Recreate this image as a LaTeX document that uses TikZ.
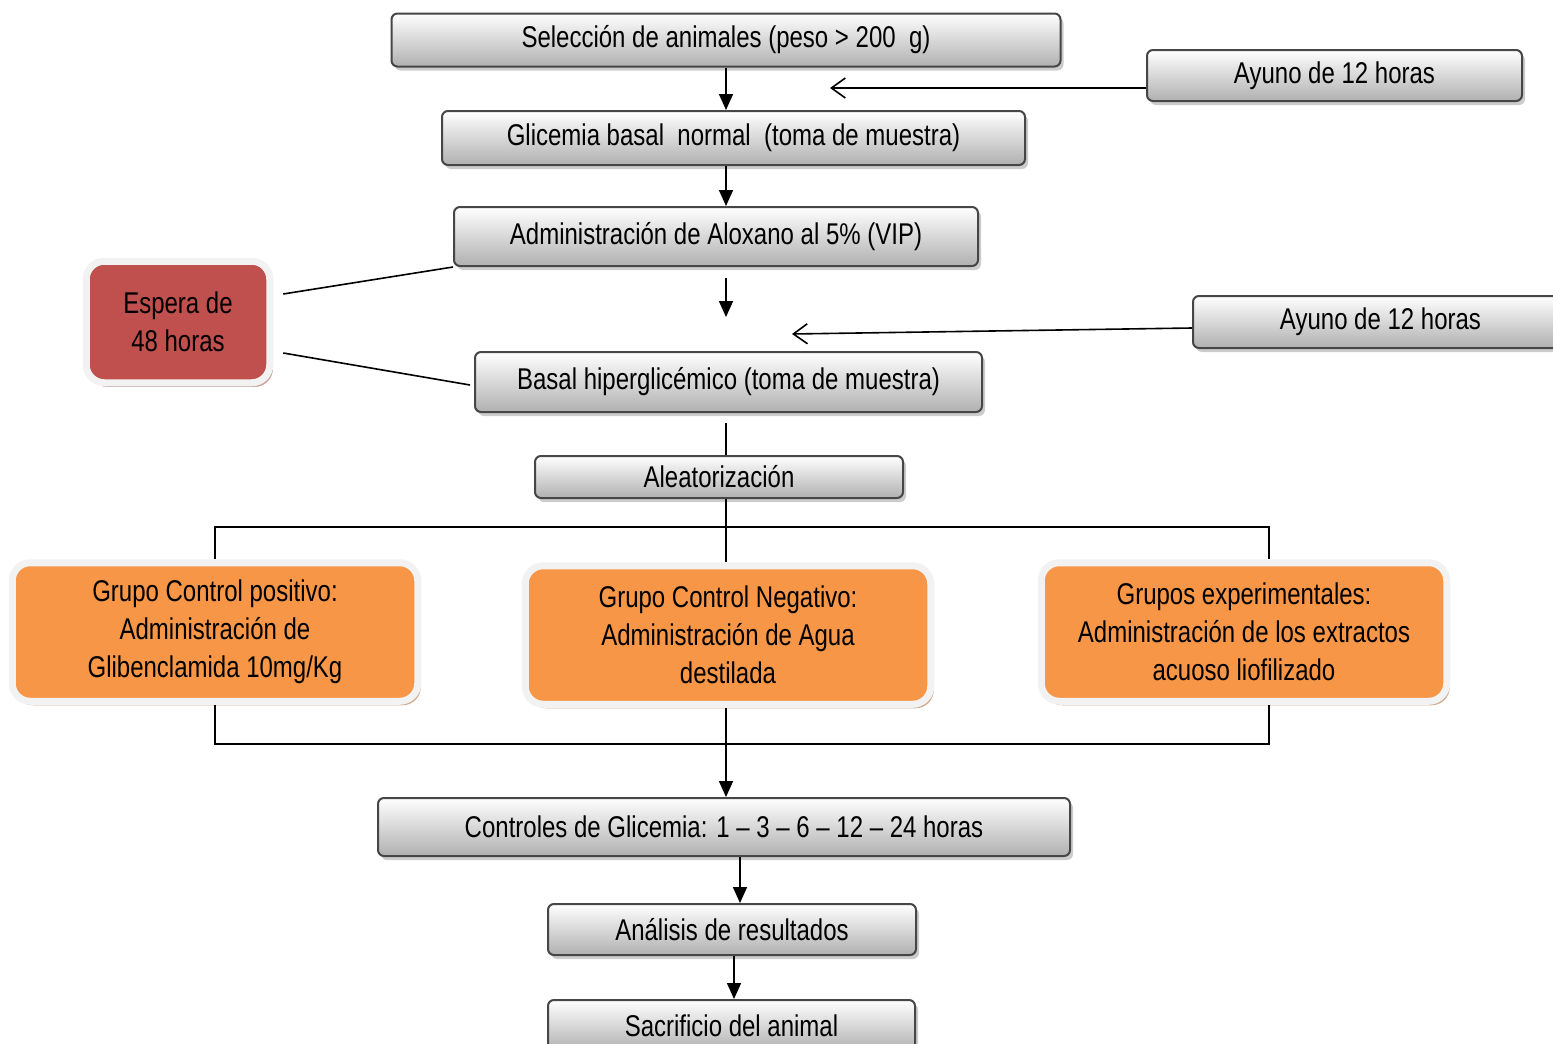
\documentclass[tikz,border=0pt]{standalone}
\usepackage{fontspec}
\setmainfont{Liberation Sans}[FakeStretch=0.8]
\usetikzlibrary{arrows.meta,shadows}
\definecolor{boxorange}{HTML}{F79646}
\definecolor{boxred}{HTML}{C0504D}
\definecolor{tanshadow}{HTML}{D2AC8E}
\definecolor{redshadow}{HTML}{C9A3A3}

\begin{document}
\begin{tikzpicture}[x=0.5pt, y=-0.5pt, line width=0.8pt,
    >={Triangle[length=8pt,width=7pt]},
    barb/.style = {-{Straight Barb[length=7pt,width=10pt]}},
    main/.style = {draw=gray!55!black, line width=1pt, rounded corners=3pt,
        top color=white, bottom color=gray!62, inner sep=0pt,
        font=\fontsize{15}{19}\selectfont,
        drop shadow={shadow xshift=1.5pt, shadow yshift=-2pt, fill=gray!40, opacity=1}},
    note/.style = {draw=gray!10, line width=3.5pt, rounded corners=9pt, align=center,
        inner sep=0pt, font=\fontsize{15}{19}\selectfont,
        drop shadow={shadow xshift=1.5pt, shadow yshift=-2pt, fill=tanshadow, opacity=1}}]
    \useasboundingbox (0,0) rectangle (1553,1044);
    % boxes
    \node[main, minimum width=334.5pt, minimum height=26.5pt] at (726,40) (1) {Selección de animales (peso > 200\ \ g)};
    \node[main, minimum width=187.5pt, minimum height=25.5pt] at (1334.5,75.5) (2) {Ayuno de 12 horas};
    \node[main, minimum width=291.5pt, minimum height=27pt] at (733.5,138) (3) {Glicemia basal\ \ normal\ \ (toma de muestra)};
    \node[main, minimum width=262pt, minimum height=29.5pt] at (716,236.5) (4) {Administración de Aloxano al 5\% (VIP)};
    \node[note, fill=boxred, minimum width=91.75pt, minimum height=60.75pt,
        drop shadow={shadow xshift=1.5pt, shadow yshift=-2pt, fill=redshadow, opacity=1}]
        at (178,322) (5) {Espera de\\48 horas};
    \node[main, minimum width=187.5pt, minimum height=26pt] at (1380.5,322) (6) {Ayuno de 12 horas};
    \node[main, minimum width=253.5pt, minimum height=30pt] at (728.5,382) (7) {Basal hiperglicémico (toma de muestra)};
    \node[main, minimum width=184pt, minimum height=21pt] at (719,477) (8) {Aleatorización};
    \node[note, fill=boxorange, minimum width=202.75pt, minimum height=69.25pt] at (215,632) (9) {Grupo Control positivo:\\Administración de\\Glibenclamida 10mg/Kg};
    \node[note, fill=boxorange, minimum width=202.75pt, minimum height=69.25pt] at (728,635) (10) {Grupo Control Negativo:\\Administración de Agua\\destilada};
    \node[note, fill=boxorange, minimum width=202.75pt, minimum height=69.25pt] at (1244,632) (11) {Grupos experimentales:\\Administración de los extractos\\acuoso liofilizado};
    \node[main, minimum width=346pt, minimum height=29pt] at (724,827) (12) {Controles de Glicemia: 1 – 3 – 6 – 12 – 24 horas};
    \node[main, minimum width=184pt, minimum height=25.5pt] at (732,929.5) (13) {Análisis de resultados};
    \node[main, minimum width=183.5pt, minimum height=25.5pt] at (731.5,1025.5) (14) {Sacrificio del animal};
    % free ends
    \coordinate (a1) at (830,88);
    \coordinate (a2) at (792,334);
    \coordinate (t1) at (215,527);
    \coordinate (t2) at (1269,527);
    \coordinate (u1) at (215,744);
    \coordinate (u2) at (1269,744);
    % connectors
    \draw [->] (1.south) -- (1.south |- 3.north);
    \draw [barb] (2.west |- a1) -- (a1);
    \draw [->] (3.south -| 1.south) -- (4.north -| 1.south);
    \draw [->, shorten <=5.5pt, shorten >=17pt] (4.south -| 1.south) -- (7.north -| 1.south);
    \draw [barb] ([yshift=-3pt]6.west) -- (a2);
    \draw ([shift={(10,-28)}]5.east) -- (4.south west);
    \draw ([shift={(10,31)}]5.east) -- ([shift={(-4,3)}]7.west);
    \draw [shorten <=5pt] (7.south -| 1.south) -- (8.north -| 1.south);
    \draw (8.south -| 1.south) -- (10.north -| 1.south);
    \draw (9.north) -- (t1) -- (t2) -- (t2 |- 11.north);
    \draw (9.south) -- (u1) -- (u2) -- (u2 |- 11.south);
    \draw [->] (10.south -| 1.south) -- (12.north -| 1.south);
    \draw [->] ([xshift=4pt]13.north |- 12.south) -- ([xshift=4pt]13.north);
    \draw [->] ([xshift=1pt]13.south) -- ([xshift=1pt]13.south |- 14.north);
\end{tikzpicture}
\end{document}
